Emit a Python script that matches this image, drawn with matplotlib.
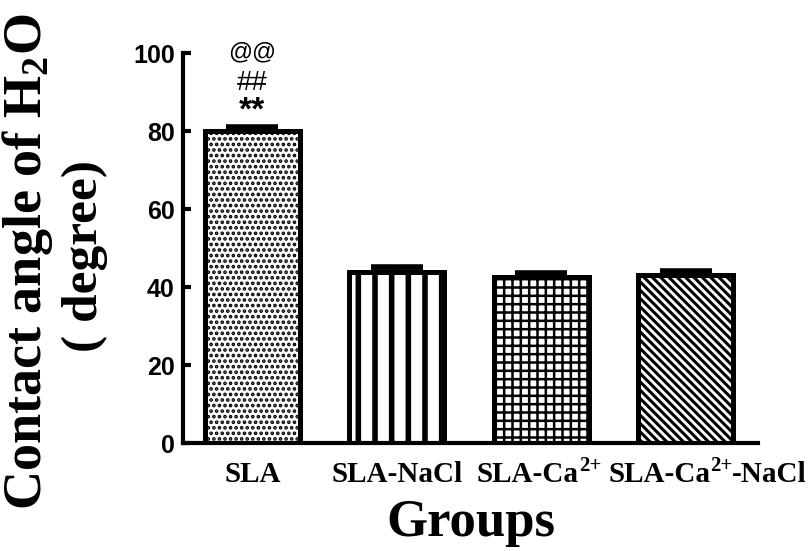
import matplotlib
matplotlib.use('Agg')
import matplotlib.pyplot as plt
import numpy as np

# group labels: base text, superscript, trailing text
label_base = ['SLA', 'SLA-NaCl', 'SLA-Ca', 'SLA-Ca']
label_sup = ['', '', '2+', '2+']
label_tail = ['', '', '', '-NaCl']
means = [80.1, 43.8, 42.6, 43.1]
errors = [0.8, 1.3, 1.1, 1.0]
hatches = ['...', '|', '++', '\\\\\\\\']
hatch_widths = [1.8, 4.0, 1.8, 2.2]
yticks = [0, 20, 40, 60, 80, 100]
marks = ['**', '##', '@@']

plt.rcParams['mathtext.fontset'] = 'custom'
plt.rcParams['mathtext.rm'] = 'Liberation Serif:bold'
plt.rcParams['mathtext.bf'] = 'Liberation Serif:bold'
plt.rcParams['mathtext.default'] = 'rm'

fig = plt.figure(figsize=(8.1, 5.51), dpi=100)
ax = fig.add_axes([0.2259, 0.196, 0.7099, 0.7078])

x = np.arange(len(means))
for i in range(len(means)):
    with plt.rc_context({'hatch.linewidth': hatch_widths[i], 'hatch.color': 'black'}):
        bars = ax.bar(x[i], means[i], width=0.66, color='white', edgecolor='black',
                      linewidth=3.6, hatch=hatches[i], zorder=2)
        for b in bars:
            if hasattr(b, 'set_hatch_linewidth'):
                b.set_hatch_linewidth(hatch_widths[i])
    ax.errorbar(x[i], means[i], yerr=[[0], [errors[i]]], fmt='none', ecolor='black',
                elinewidth=3, capsize=19, capthick=4, zorder=1)

# significance marks above the SLA bar
ax.text(x[0], 85.2, marks[0], ha='center', va='center', fontsize=24,
        fontweight='bold', family='Liberation Sans', clip_on=False)
ax.text(x[0], 92.2, marks[1], ha='center', va='center', fontsize=20,
        family='Liberation Sans', clip_on=False)
ax.text(x[0], 100.2, marks[2], ha='center', va='center', fontsize=17,
        family='Liberation Sans', clip_on=False)

ax.set_xlim(-0.48, 3.50)
ax.set_ylim(0, 100)
ax.set_yticks(yticks)
ax.set_yticklabels([str(t) for t in yticks], fontsize=18, fontweight='bold',
                   family='Liberation Sans')
ax.set_xticks(x)
ax.set_xticklabels([])
ax.tick_params(axis='x', length=0)
ax.tick_params(axis='y', direction='in', length=6, width=3, pad=6)

# x labels, built from pieces so the superscript can be drawn large
trans = ax.get_xaxis_transform()
lab_font = dict(fontweight='bold', family='Liberation Serif', clip_on=False)
for i in range(len(means)):
    if not label_sup[i]:
        ax.text(x[i], -0.10, label_base[i], transform=trans, ha='center',
                va='baseline', fontsize=21, **lab_font)
        continue
    shift = -0.447 if not label_tail[i] else -0.535
    t1 = ax.text(x[i] + shift, -0.10, label_base[i], transform=trans, ha='left',
                 va='baseline', fontsize=21, **lab_font)
    t2 = ax.annotate(label_sup[i], xy=(1, 0), xycoords=t1, xytext=(0, 9),
                     textcoords='offset points', ha='left', va='bottom',
                     fontsize=15, **lab_font)
    if label_tail[i]:
        ax.annotate(label_tail[i], xy=(1, 0), xycoords=(t2, t1), xytext=(-0.5, 0),
                    textcoords='offset points', ha='left', va='bottom',
                    fontsize=21, **lab_font)

ax.spines['top'].set_visible(False)
ax.spines['right'].set_visible(False)
ax.spines['left'].set_linewidth(3)
ax.spines['bottom'].set_linewidth(3)

fig.text(0.581, 0.05, 'Groups', ha='center', va='center', fontsize=38,
         fontweight='bold', family='Liberation Serif')
fig.text(0.034, 0.525, 'Contact angle of H$_2$O', ha='center', va='center',
         rotation=90, fontsize=39, fontweight='bold', family='Liberation Serif')
fig.text(0.105, 0.535, '( degree)', ha='center', va='center',
         rotation=90, fontsize=37, fontweight='bold', family='Liberation Serif')

fig.savefig('out.png', dpi=100)
